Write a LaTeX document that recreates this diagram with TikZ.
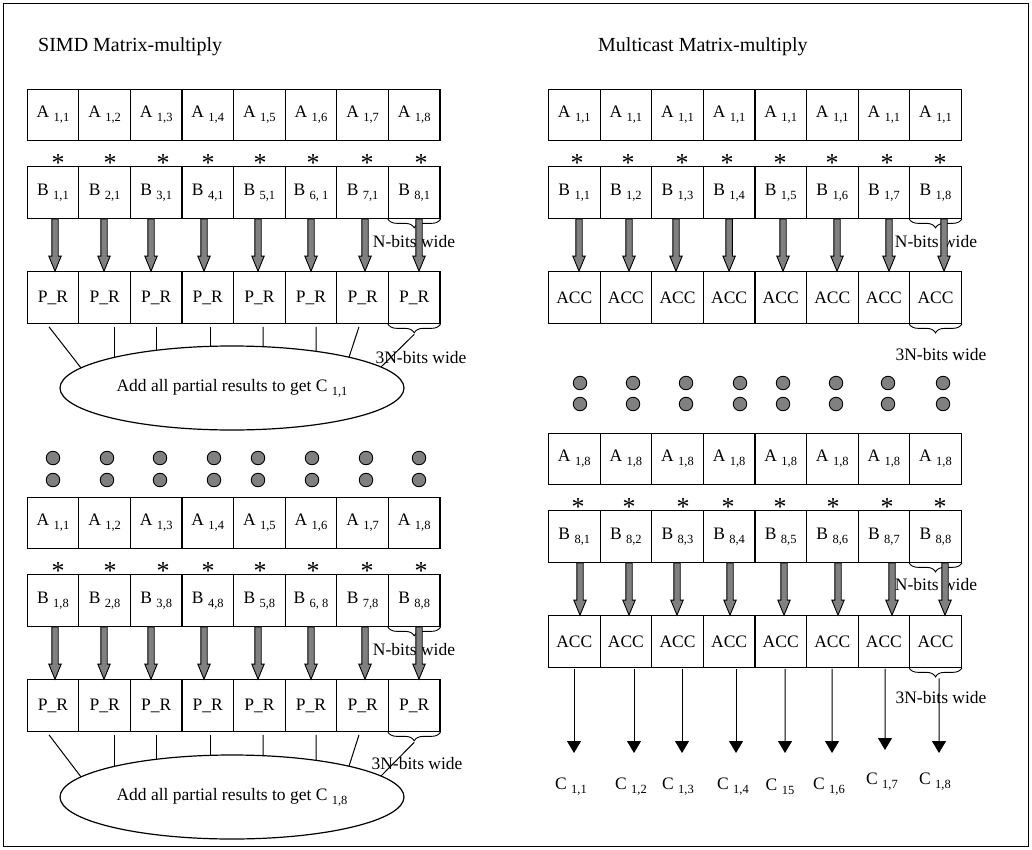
\documentclass[tikz,border=0pt]{standalone}
\usepackage{fontspec}
\setmainfont{Liberation Serif}
\usetikzlibrary{calc,shapes.geometric,decorations.pathreplacing,arrows.meta}
\definecolor{fillgray}{HTML}{808080}
\newcommand\lblfont{\fontsize{17.5}{20}\selectfont}
\newcommand\ttlfont{\fontsize{20}{24}\selectfont}
\newcommand\sbs[1]{\raisebox{-4pt}{\fontsize{12.5}{13}\selectfont #1}}
\newcommand\garrow[3]{\filldraw[garr] let \p1=($(#2.south)+(#1,0)$), \p2=($(#3.north)+(#1,0)$) in
  ({\x1-3.2pt},{\y1}) -- ({\x1-3.2pt},{\y2+15pt}) -- ({\x1-6.2pt},{\y2+15pt}) -- ({\x1},{\y2}) --
  ({\x1+6.2pt},{\y2+15pt}) -- ({\x1+3.2pt},{\y2+15pt}) -- ({\x1+3.2pt},{\y1}) -- cycle;}
\begin{document}
\begin{tikzpicture}[x=1pt,y=-1pt,
 cell/.style={draw, line width=1.2pt, minimum width=51.6pt, minimum height=51.5pt, inner sep=0pt, font=\lblfont},
 garr/.style={fill=fillgray, draw=black, line width=0.9pt, line join=miter},
 astk/.style={font=\fontsize{26}{26}\selectfont, inner sep=0pt, anchor=base},
 dotc/.style={circle, draw=black, line width=0.9pt, fill=fillgray, minimum size=13.5pt, inner sep=0pt},
 bigell/.style={ellipse, draw, line width=1.2pt, minimum width=344pt, minimum height=84pt, inner sep=0pt, font=\lblfont},
 brc/.style={decorate, decoration={brace, mirror, amplitude=9pt}, line width=0.9pt},
 note/.style={font=\lblfont, inner sep=0pt},
 ttl/.style={font=\ttlfont, inner sep=0pt, anchor=west},
 link/.style={line width=1pt},
 outarr/.style={line width=1pt, -{Triangle[width=14pt,length=12pt]}}
]
\useasboundingbox (0,0) rectangle (1032,850);
\draw[line width=1.5pt] (3.5,3.5) rectangle (1028.5,846.5);

% titles
\node[ttl] (t1) at (38,47) {SIMD Matrix-multiply};
\node[ttl] (t2) at (598,47) {Multicast Matrix-multiply};

% ---------- left block 1
\foreach \i in {1,...,8} \node[cell] (L1A\i) at ({27.2+51.6*(\i-0.5)},115) {A \sbs{1,\i}};
\foreach \i/\t in {1/{1,1},2/{2,1},3/{3,1},4/{4,1},5/{5,1},6/{6, 1},7/{7,1},8/{8,1}}
  \node[cell] (L1B\i) at ({27.2+51.6*(\i-0.5)},192.5) {B \sbs{\t}};
\foreach \i in {1,...,8} \node[cell] (L1P\i) at ({27.2+51.6*(\i-0.5)},297.5) {P\_R};
\foreach \i/\x in {1/58,2/110,3/163,4/208,5/260,6/313,7/367,8/421} \node[astk] (s1-\i) at (\x,172) {*};

% ---------- left block 2
\foreach \i in {1,...,8} \node[cell] (L2A\i) at ({27.2+51.6*(\i-0.5)},523) {A \sbs{1,\i}};
\foreach \i/\t in {1/{1,8},2/{2,8},3/{3,8},4/{4,8},5/{5,8},6/{6, 8},7/{7,8},8/{8,8}}
  \node[cell] (L2B\i) at ({27.2+51.6*(\i-0.5)},600.5) {B \sbs{\t}};
\foreach \i in {1,...,8} \node[cell] (L2P\i) at ({27.2+51.6*(\i-0.5)},705.5) {P\_R};
\foreach \i/\x in {1/58,2/110,3/163,4/208,5/260,6/313,7/367,8/421} \node[astk] (s2-\i) at (\x,579) {*};

% ---------- right block 1
\foreach \i in {1,...,8} \node[cell] (R1A\i) at ({548.5+51.6*(\i-0.5)},115) {A \sbs{1,1}};
\foreach \i in {1,...,8} \node[cell] (R1B\i) at ({548.5+51.6*(\i-0.5)},192.5) {B \sbs{1,\i}};
\foreach \i in {1,...,8} \node[cell] (R1P\i) at ({548.5+51.6*(\i-0.5)},297.5) {ACC};
\foreach \i/\x in {1/577,2/628,3/682,4/727,5/780,6/832,7/887,8/940} \node[astk] (s3-\i) at (\x,172) {*};

% ---------- right block 2
\foreach \i in {1,...,8} \node[cell] (R2A\i) at ({548.5+51.6*(\i-0.5)},459) {A \sbs{1,8}};
\foreach \i in {1,...,8} \node[cell] (R2B\i) at ({548.5+51.6*(\i-0.5)},536.5) {B \sbs{8,\i}};
\foreach \i in {1,...,8} \node[cell] (R2P\i) at ({548.5+51.6*(\i-0.5)},641.5) {ACC};
\foreach \i/\x in {1/578,2/629,3/683,4/728,5/780,6/833,7/887,8/940} \node[astk] (s4-\i) at (\x,515) {*};

% dots
\foreach \i/\x in {1/53,2/107,3/160,4/214,5/258,6/312,7/366,8/419} {
  \node[dotc] (dLa\i) at (\x,458) {};
  \node[dotc] (dLb\i) at (\x,480) {};
}
\foreach \i/\x in {1/580,2/633,3/686,4/740,5/783,6/836,7/888,8/943} {
  \node[dotc] (dRa\i) at (\x,383) {};
  \node[dotc] (dRb\i) at (\x,404) {};
}

% ellipses
\node[bigell] (E1) at (232,388) {\makebox[0pt]{Add all partial results to get C \sbs{1,1}}};
\node[bigell] (E2) at (232,797) {\makebox[0pt]{Add all partial results to get C \sbs{1,8}}};

% braces
\foreach \b in {L1B8,L1P8,L2B8,L2P8,R1B8,R1P8,R2B8,R2P8}
  {\draw[brc] (\b.south west) -- (\b.south east);}

% notes
\node[note] (n1) at (414,242) {N-bits wide};
\node[note] (n2) at (421,358) {3N-bits wide};
\node[note] (n3) at (414,650) {N-bits wide};
\node[note] (n4) at (417,764) {3N-bits wide};
\node[note] (n5) at (936,242) {N-bits wide};
\node[note] (n6) at (941,355) {3N-bits wide};
\node[note] (n7) at (936,585) {N-bits wide};
\node[note] (n8) at (941,698) {3N-bits wide};

% gray arrows
\foreach \i/\d in {1/2,2/-0.6,3/-5.2,4/-3.8,5/-1.4,6/0,7/2.4,8/4.8} {
  \garrow{\d}{L1B\i}{L1P\i}
  \garrow{\d}{L2B\i}{L2P\i}
}
\foreach \i/\d in {1/4.7,2/3.1,3/-1.5,4/0,5/2.3,6/4.7,7/5.1,8/8.5} {\garrow{\d}{R1B\i}{R1P\i}}
\foreach \i/\d in {1/5.7,2/3.1,3/-0.5,4/0.9,5/3.3,6/5.7,7/8.1,8/9.5} {\garrow{\d}{R2B\i}{R2P\i}}

% lines to ellipses
\foreach \E/\P in {E1/L1P,E2/L2P} {
  \draw[link] ($(\P1.south)+(-4,3)$) -- ($(\E.center)+(-151,-20.1)$);
  \draw[link] ($(\P2.south)+(9.4,3)$) -- ($(\E.center)+(-118,-30.6)$);
  \draw[link] ($(\P3.south)+(-0.2,3)$) -- ($(\E.center)+(-76,-37.7)$);
  \draw[link] ($(\P4.south)+(2.2,3)$) -- ($(\E.center)+(-22,-41.7)$);
  \draw[link] ($(\P5.south)+(3.6,3)$) -- ($(\E.center)+(31,-41.3)$);
  \draw[link] ($(\P6.south)+(5,3)$) -- ($(\E.center)+(84,-36.7)$);
  \draw[link] ($(\P7.south)+(-3.6,3)$) -- ($(\E.center)+(117,-30.8)$);
  \draw[link] ($(\P8.south)+(0,10.5)$) -- ($(\E.center)+(149,-21)$);
}

% output arrows and C labels
\foreach \i/\x/\y in {1/574/753,2/634/753,3/682/753,4/736/753,5/785/753,6/832/753,7/885/750,8/939/753}
  {\coordinate (ct\i) at (\x,\y);}
\foreach \i/\d in {1/-0.3,2/8.1,3/4.5,4/6.9,5/4.3,6/-0.3,7/1.1}
  {\draw[outarr] ($(R2P\i.south)+(\d,1)$) -- (ct\i);}
\draw[outarr] ($(R2P8.south)+(3.5,10.5)$) -- (ct8);

\node[note] (c1) at (571,787) {C \sbs{1,1}};
\node[note] (c2) at (631,787) {C \sbs{1,2}};
\node[note] (c3) at (678,787) {C \sbs{1,3}};
\node[note] (c4) at (733,787) {C \sbs{1,4}};
\node[note] (c5) at (780,787) {C \sbs{15}};
\node[note] (c6) at (829,787) {C \sbs{1,6}};
\node[note] (c7) at (882,782) {C \sbs{1,7}};
\node[note] (c8) at (935,782) {C \sbs{1,8}};
\end{tikzpicture}
\end{document}
